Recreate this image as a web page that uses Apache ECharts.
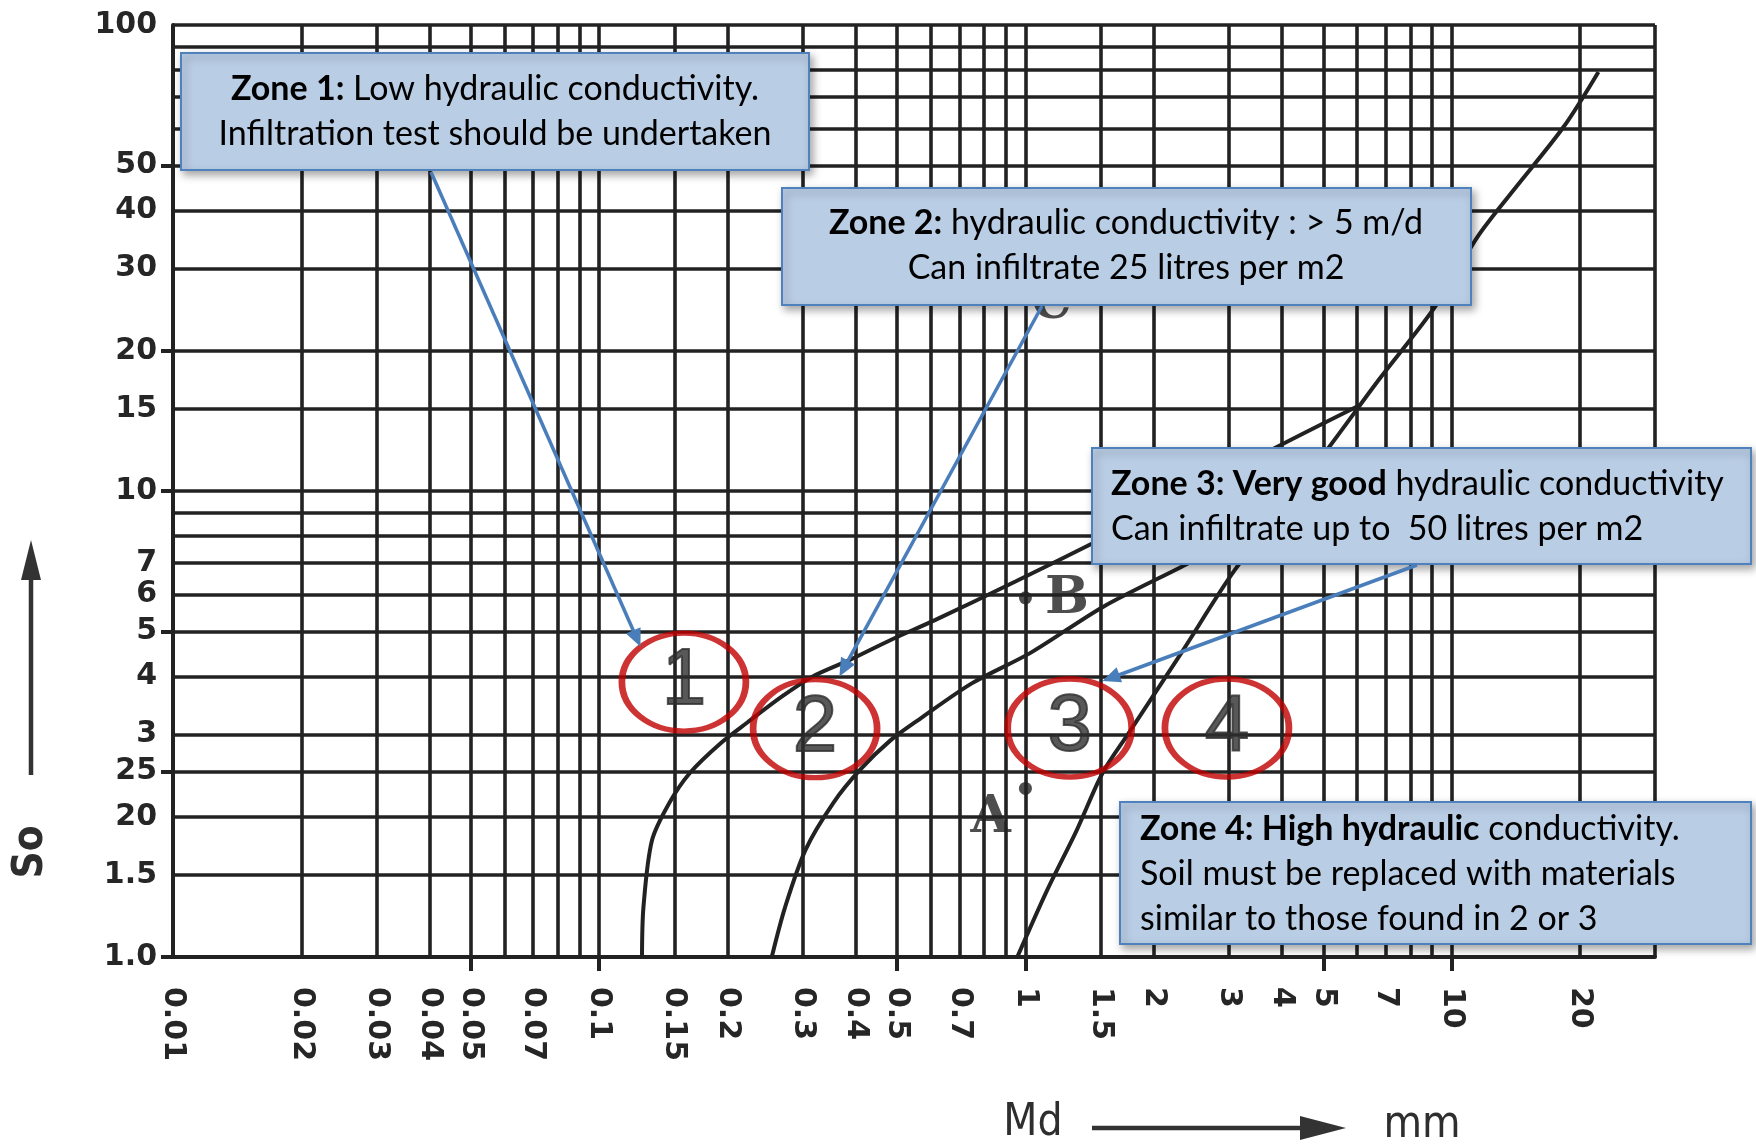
<!DOCTYPE html>
<html>
<head>
<meta charset="utf-8">
<title>Md – So diagram</title>
<script src="https://cdn.jsdelivr.net/npm/echarts@6/dist/echarts.min.js"></script>
<style>
  html, body { margin: 0; padding: 0; background: #ffffff; }
  #chart { width: 1756px; height: 1145px; }
</style>
</head>
<body>
<div id="chart"></div>
<script>
// ---- Md axis (median grain size, mm), logarithmic ----
const mdGridValues = [0.01, 0.02, 0.03, 0.04, 0.05, 0.06, 0.07, 0.08, 0.09,
  0.1, 0.15, 0.2, 0.3, 0.4, 0.5, 0.6, 0.7, 0.8, 0.9,
  1, 1.5, 2, 3, 4, 5, 6, 7, 8, 9, 10, 20, 30];
const mdLabelValues = [0.01, 0.02, 0.03, 0.04, 0.05, 0.07, 0.1, 0.15, 0.2, 0.3,
  0.4, 0.5, 0.7, 1, 1.5, 2, 3, 4, 5, 7, 10, 20];
const mdMajorTicks = [0.05, 0.1, 0.5, 1, 5, 10];

// ---- So axis (sorting coefficient), logarithmic ----
const soGridValues = [1, 1.5, 2, 2.5, 3, 4, 5, 6, 7, 8, 9, 10, 15, 20, 30, 40,
  50, 60, 70, 80, 90, 100];
const soLabelValues = [1, 1.5, 2, 2.5, 3, 4, 5, 6, 7, 10, 15, 20, 30, 40, 50, 100];
const soLabelTexts = ['1.0', '1.5', '20', '25', '3', '4', '5', '6', '7', '10',
  '15', '20', '30', '40', '50', '100'];
const soMajorTicks = [1, 2.5, 5, 10, 20, 50];

// ---- zone boundary curves, [Md, So] ----
const boundary12 = [[0.126, 1.0], [0.127, 1.28], [0.133, 1.78], [0.146, 2.14],
  [0.163, 2.48], [0.193, 2.88], [0.223, 3.19], [0.268, 3.62], [0.317, 4.0],
  [0.387, 4.34], [0.483, 4.79], [0.615, 5.29], [0.95, 6.4], [1.49, 7.85],
  [2.5, 10.0], [3.87, 12.4], [6.1, 15.3]];
const boundary23 = [[0.254, 1.0], [0.273, 1.28], [0.305, 1.70], [0.354, 2.14],
  [0.409, 2.52], [0.483, 2.92], [0.57, 3.26], [0.75, 3.87], [1.03, 4.5],
  [1.52, 5.64], [2.32, 6.87], [3.0, 7.75], [3.75, 8.5]];
const boundary34 = [[0.957, 1.0], [1.124, 1.39], [1.319, 1.87], [1.516, 2.48],
  [1.75, 3.03], [2.32, 4.49], [3.10, 6.77], [5.14, 12.37], [6.74, 17.3],
  [9.13, 24.8], [11.5, 35.1], [13.8, 43.6], [18.3, 60.4], [22.1, 79.3]];

// ---- sample points ----
const sampleNames = ['A', 'B'];
const sampleMd = [1.0, 1.0];
const sampleSo = [2.3, 5.9];

// ---- zone markers ----
const zoneNames = ['1', '2', '3', '4'];
const zoneMd = [0.158, 0.321, 1.27, 2.97];
const zoneSo = [3.89, 3.09, 3.10, 3.10];

// ---- callout targets [Md, So] ----
const calloutTargets = [[0.125, 4.63], [0.366, 4.0], [1.516, 3.91]];

const ink = '#222222';
const boxFill = '#b9cde5';
const boxStroke = '#4f81bd';
const arrowBlue = '#4a7ebb';
const textFont = 'Lato, "Open Sans", sans-serif';
const tickFont = '"DejaVu Sans", sans-serif';
const nameFont = '"DejaVu Sans Condensed", "DejaVu Sans", sans-serif';

const chart = echarts.init(document.getElementById('chart'), null, { renderer: 'canvas' });

function curve(name, data) {
  return {
    type: 'line', name: name, data: data,
    xAxisIndex: 0, yAxisIndex: 0,
    symbol: 'none', showSymbol: false, smooth: 0.3,
    lineStyle: { color: ink, width: 4 },
    silent: true, z: 3
  };
}

const ellipsePath = 'path://M0,50 A50,50 0 1,1 100,50 A50,50 0 1,1 0,50 Z';

chart.setOption({
  animation: false,
  backgroundColor: '#ffffff',
  grid: { left: 173, right: 101, top: 25, bottom: 188, containLabel: false },
  xAxis: [
    {
      type: 'log', logBase: 10, min: 0.01, max: 30, position: 'bottom',
      axisLine: { show: true, lineStyle: { color: ink, width: 4 } },
      axisTick: { show: false, customValues: mdGridValues },
      splitLine: { show: true, lineStyle: { color: ink, width: 3.6 } },
      axisLabel: {
        show: true, customValues: mdLabelValues, rotate: -90, margin: 30,
        fontFamily: tickFont, fontWeight: 'bold', fontSize: 30, color: '#262626',
        formatter: v => String(+Number(v).toPrecision(6))
      }
    },
    {
      type: 'log', logBase: 10, min: 0.01, max: 30, position: 'bottom',
      axisLine: { show: false },
      axisTick: { show: true, customValues: mdMajorTicks, length: 14,
        lineStyle: { color: ink, width: 4 } },
      splitLine: { show: false },
      axisLabel: { show: false }
    }
  ],
  yAxis: [
    {
      type: 'log', logBase: 10, min: 1, max: 100, position: 'left',
      axisLine: { show: true, lineStyle: { color: ink, width: 4 } },
      axisTick: { show: false, customValues: soGridValues },
      splitLine: { show: true, lineStyle: { color: ink, width: 3.6 } },
      axisLabel: {
        show: true, customValues: soLabelValues, margin: 16,
        fontFamily: tickFont, fontWeight: 'bold', fontSize: 30, color: '#262626',
        formatter: v => {
          let best = 0;
          soLabelValues.forEach((s, i) => {
            if (Math.abs(Math.log(s) - Math.log(v)) < Math.abs(Math.log(soLabelValues[best]) - Math.log(v))) best = i;
          });
          return soLabelTexts[best];
        }
      }
    },
    {
      type: 'log', logBase: 10, min: 1, max: 100, position: 'left',
      axisLine: { show: false },
      axisTick: { show: true, customValues: soMajorTicks, length: 12,
        lineStyle: { color: ink, width: 4 } },
      splitLine: { show: false },
      axisLabel: { show: false }
    }
  ],
  series: [
    curve('Zone 1 / 2', boundary12),
    curve('Zone 2 / 3', boundary23),
    curve('Zone 3 / 4', boundary34),
    {
      type: 'scatter', name: 'samples', xAxisIndex: 0, yAxisIndex: 0, z: 4,
      symbol: 'circle', symbolSize: 13, itemStyle: { color: '#222222' },
      data: sampleNames.map((n, i) => ({
        value: [sampleMd[i], sampleSo[i]], name: n,
        label: n === 'B'
          ? { position: 'right', distance: 4, offset: [9, 2] }
          : { position: 'left', distance: 2, offset: [-6, 30] }
      })),
      label: {
        show: true, formatter: p => p.name,
        fontFamily: '"DejaVu Serif", "Liberation Serif", serif',
        fontWeight: 'bold', fontSize: 52, color: '#222222'
      }
    },
    {
      type: 'scatter', name: 'hidden sample', xAxisIndex: 0, yAxisIndex: 0, z: 4,
      symbolSize: 0,
      data: [{ value: [1.15, 25.1], name: 'C' }],
      label: {
        show: true, position: 'inside', formatter: p => p.name,
        fontFamily: '"DejaVu Serif", "Liberation Serif", serif',
        fontWeight: 'bold', fontSize: 50, color: '#222222'
      }
    },
    {
      type: 'scatter', name: 'zones', xAxisIndex: 0, yAxisIndex: 0, z: 6,
      symbol: ellipsePath, symbolSize: [124, 98],
      itemStyle: { color: 'rgba(0,0,0,0)', borderColor: '#c00000', borderWidth: 6 },
      data: zoneNames.map((n, i) => ({ value: [zoneMd[i], zoneSo[i]], name: n })),
      label: {
        show: true, position: 'inside', formatter: p => p.name,
        fontFamily: '"Liberation Sans", Arial, sans-serif', fontSize: 80, color: '#2e2e2e',
        textBorderColor: '#2e2e2e', textBorderWidth: 2
      }
    }
  ]
});

// ---- annotation layer ----
function box(x, y, w, h) {
  return {
    type: 'rect', z: 100,
    shape: { x: x, y: y, width: w, height: h },
    style: {
      fill: boxFill, stroke: boxStroke, lineWidth: 2,
      shadowBlur: 8, shadowOffsetX: 3, shadowOffsetY: 4,
      shadowColor: 'rgba(0,0,0,0.35)'
    }
  };
}

function boxText(x, y, text, align) {
  return {
    type: 'text', z: 101, x: x, y: y,
    style: {
      text: text, fill: '#000000', fontFamily: textFont, fontSize: 34,
      lineHeight: 45, align: align, verticalAlign: 'middle',
      rich: { b: { fontFamily: textFont, fontSize: 34, fontWeight: 'bold', lineHeight: 45, fill: '#000000' } }
    }
  };
}

function arrow(start, tip, color, width, headLen, headHalf, z) {
  const dx = tip[0] - start[0], dy = tip[1] - start[1];
  const len = Math.sqrt(dx * dx + dy * dy);
  const ux = dx / len, uy = dy / len;
  const bx = tip[0] - ux * headLen, by = tip[1] - uy * headLen;
  return [
    {
      type: 'line', z: z,
      shape: { x1: start[0], y1: start[1], x2: bx + ux * 2, y2: by + uy * 2 },
      style: { stroke: color, lineWidth: width }
    },
    {
      type: 'polygon', z: z,
      shape: { points: [[tip[0], tip[1]],
        [bx - uy * headHalf, by + ux * headHalf],
        [bx + uy * headHalf, by - ux * headHalf]] },
      style: { fill: color }
    }
  ];
}

const toPx = p => chart.convertToPixel({ xAxisIndex: 0, yAxisIndex: 0 }, p);
const tips = calloutTargets.map(toPx);

const graphics = [].concat(
  arrow([431, 172], tips[0], arrowBlue, 3.5, 18, 8, 102),
  arrow([1042, 306], tips[1], arrowBlue, 3.5, 18, 8, 102),
  arrow([1417, 565], tips[2], arrowBlue, 3.5, 18, 8, 102),
  [
    box(181, 53, 628, 117),
    boxText(495, 112, '{b|Zone 1:} Low hydraulic conductivity.\nInfiltration test should be undertaken', 'center'),
    box(782, 188, 689, 117),
    boxText(1126, 246, '{b|Zone 2:} hydraulic conductivity : > 5 m/d\nCan infiltrate 25 litres per m2', 'center'),
    box(1092, 448, 659, 116),
    boxText(1111, 507, '{b|Zone 3: Very good} hydraulic conductivity\nCan infiltrate up to  50 litres per m2', 'left'),
    box(1120, 802, 631, 142),
    boxText(1140, 874, '{b|Zone 4: High hydraulic} conductivity.\nSoil must be replaced with materials\nsimilar to those found in 2 or 3', 'left')
  ],
  // axis names with direction arrows
  arrow([31, 775], [31, 540], '#333333', 4.5, 40, 10, 50),
  arrow([1092, 1128], [1346, 1128], '#333333', 4.5, 46, 12, 50),
  [
    {
      type: 'text', z: 50, x: 31, y: 852, rotation: Math.PI / 2,
      style: { text: 'So', fill: '#2e2e2e', fontFamily: nameFont, fontWeight: 'bold',
        fontSize: 42, align: 'center', verticalAlign: 'middle' }
    },
    {
      type: 'text', z: 50, x: 1033, y: 1124,
      style: { text: 'Md', fill: '#2e2e2e', fontFamily: nameFont,
        fontSize: 44, align: 'center', verticalAlign: 'middle' }
    },
    {
      type: 'text', z: 50, x: 1422, y: 1126,
      style: { text: 'mm', fill: '#2e2e2e', fontFamily: nameFont,
        fontSize: 44, align: 'center', verticalAlign: 'middle' }
    }
  ]
);

chart.setOption({ graphic: graphics });
</script>
</body>
</html>
